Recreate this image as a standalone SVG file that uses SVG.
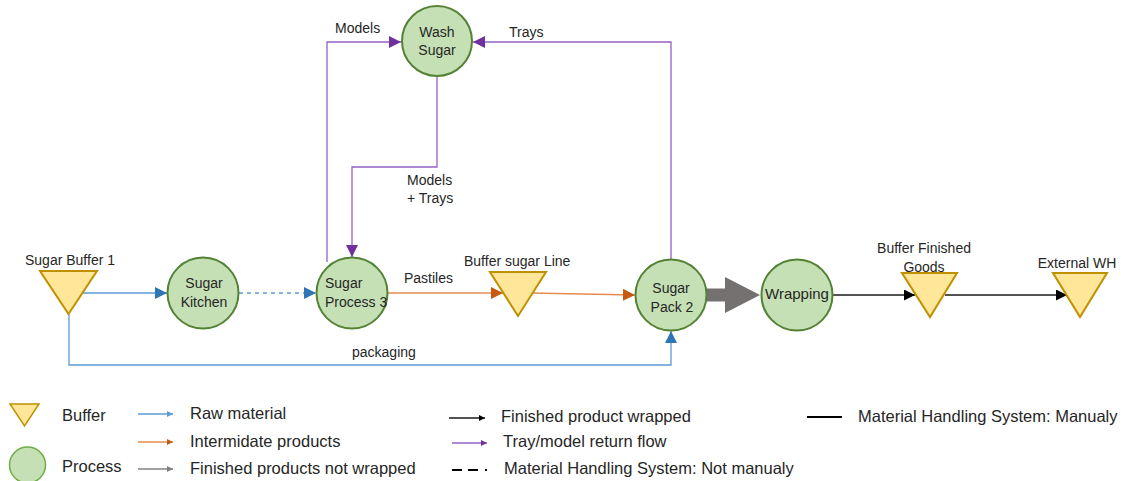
<svg xmlns="http://www.w3.org/2000/svg" width="1125" height="481" viewBox="0 0 1125 481">
<defs>
<style>
text{font-family:"Liberation Sans",Arial,sans-serif;fill:#262626}
.t{font-size:14px}
.lg{font-size:16.5px}
.proc{fill:#C5E0B4;stroke:#548235;stroke-width:2}
.buf{fill:#FFE699;stroke:#BF9000;stroke-width:2}
.blue{stroke:#5B9BD5;stroke-width:1.3;fill:none}
.orange{stroke:#E68A4F;stroke-width:1.3;fill:none}
.purple{stroke:#9461C4;stroke-width:1.3;fill:none}
.black{stroke:#1a1a1a;stroke-width:1.3;fill:none}
.gray{stroke:#808080;stroke-width:1.5;fill:none}
</style>
<marker id="ab" viewBox="0 0 10 10" refX="10" refY="5" markerWidth="12" markerHeight="12" markerUnits="userSpaceOnUse" orient="auto"><path d="M0,0L10,5L0,10z" fill="#2E75B6"/></marker>
<marker id="ao" viewBox="0 0 10 10" refX="10" refY="5" markerWidth="12" markerHeight="12" markerUnits="userSpaceOnUse" orient="auto"><path d="M0,0L10,5L0,10z" fill="#C55A11"/></marker>
<marker id="ap" viewBox="0 0 10 10" refX="10" refY="5" markerWidth="12" markerHeight="12" markerUnits="userSpaceOnUse" orient="auto"><path d="M0,0L10,5L0,10z" fill="#7030A0"/></marker>
<marker id="ak" viewBox="0 0 10 10" refX="10" refY="5" markerWidth="11" markerHeight="11" markerUnits="userSpaceOnUse" orient="auto"><path d="M0,0L10,5L0,10z" fill="#000"/></marker>
<marker id="sb" viewBox="0 0 10 10" refX="10" refY="5" markerWidth="6" markerHeight="6" markerUnits="userSpaceOnUse" orient="auto"><path d="M0,0L10,5L0,10z" fill="#5B9BD5"/></marker>
<marker id="so" viewBox="0 0 10 10" refX="10" refY="5" markerWidth="6" markerHeight="6" markerUnits="userSpaceOnUse" orient="auto"><path d="M0,0L10,5L0,10z" fill="#C55A11"/></marker>
<marker id="sg" viewBox="0 0 10 10" refX="10" refY="5" markerWidth="6" markerHeight="6" markerUnits="userSpaceOnUse" orient="auto"><path d="M0,0L10,5L0,10z" fill="#808080"/></marker>
<marker id="sk" viewBox="0 0 10 10" refX="10" refY="5" markerWidth="6" markerHeight="6" markerUnits="userSpaceOnUse" orient="auto"><path d="M0,0L10,5L0,10z" fill="#000"/></marker>
<marker id="sp" viewBox="0 0 10 10" refX="10" refY="5" markerWidth="6" markerHeight="6" markerUnits="userSpaceOnUse" orient="auto"><path d="M0,0L10,5L0,10z" fill="#7030A0"/></marker>
</defs>
<rect width="1125" height="481" fill="#fff"/>

<g id="connectors">
<line class="blue" x1="82" y1="293" x2="167" y2="293" marker-end="url(#ab)"/>
<line class="blue" x1="239" y1="293" x2="316" y2="293" stroke-dasharray="4 4" marker-end="url(#ab)"/>
<path class="blue" d="M69,314V365H671V331" marker-end="url(#ab)"/>
<line class="orange" x1="388" y1="293" x2="503" y2="293" marker-end="url(#ao)"/>
<line class="orange" x1="530" y1="293" x2="635" y2="295" marker-end="url(#ao)"/>
<polygon points="707,288.5 725,288.5 725,277 760,295 725,313 725,301.5 707,301.5" fill="#767171"/>
<line class="black" x1="833" y1="295" x2="915" y2="295" marker-end="url(#ak)"/>
<line class="black" x1="945" y1="295" x2="1067" y2="295" marker-end="url(#ak)"/>
<path class="purple" d="M327,262V42H401" marker-end="url(#ap)"/>
<path class="purple" d="M671,259V42H473" marker-end="url(#ap)"/>
<path class="purple" d="M437,77V167H352V257" marker-end="url(#ap)"/>
<text class="t" x="335" y="33">Models</text>
<text class="t" x="509" y="37">Trays</text>
<text class="t" x="407" y="185">Models</text>
<text class="t" x="407" y="203">+ Trays</text>
<text class="t" x="404" y="283">Pastiles</text>
<text class="t" x="352" y="357">packaging</text>
</g>

<g id="wash-sugar">
<circle class="proc" cx="437" cy="41" r="35"/>
<text class="t" x="437" y="37" text-anchor="middle">Wash</text>
<text class="t" x="437" y="55" text-anchor="middle">Sugar</text>
</g>
<g id="sugar-kitchen">
<circle class="proc" cx="203" cy="293" r="35.5"/>
<text class="t" x="204" y="288" text-anchor="middle">Sugar</text>
<text class="t" x="204" y="307" text-anchor="middle">Kitchen</text>
</g>
<g id="sugar-process-3">
<circle class="proc" cx="352" cy="293" r="35.5"/>
<text class="t" x="325" y="288">Sugar</text>
<text class="t" x="325" y="307">Process 3</text>
</g>
<g id="sugar-pack-2">
<circle class="proc" cx="671" cy="295" r="35.5"/>
<text class="t" x="671" y="293" text-anchor="middle">Sugar</text>
<text class="t" x="672" y="312" text-anchor="middle">Pack 2</text>
</g>
<g id="wrapping">
<circle class="proc" cx="797" cy="295" r="35.5"/>
<text class="t" x="797" y="299" text-anchor="middle" style="font-size:15px">Wrapping</text>
</g>
<g id="sugar-buffer-1">
<polygon class="buf" points="40,271 97,271 68.5,314"/>
<text class="t" x="70" y="265" text-anchor="middle">Sugar Buffer 1</text>
</g>
<g id="buffer-sugar-line">
<polygon class="buf" points="490,272 546,272 518,316"/>
<text class="t" x="464" y="266">Buffer sugar Line</text>
</g>
<g id="buffer-finished-goods">
<polygon class="buf" points="902,273 957,273 930,317"/>
<text class="t" x="924" y="253" text-anchor="middle">Buffer Finished</text>
<text class="t" x="924" y="272" text-anchor="middle">Goods</text>
</g>
<g id="external-wh">
<polygon class="buf" points="1053,273 1107,273 1080,317"/>
<text class="t" x="1077" y="268" text-anchor="middle">External WH</text>
</g>

<g id="legend">
<polygon points="10,404 39,404 24.5,426" fill="#FFE699" stroke="#BF9000" stroke-width="1.5"/>
<text class="lg" x="62" y="421">Buffer</text>
<circle cx="27.5" cy="465" r="18" fill="#C5E0B4" stroke="#70AD47" stroke-width="1.5"/>
<text class="lg" x="62" y="472">Process</text>
<line class="blue" x1="138" y1="414" x2="173" y2="414" marker-end="url(#sb)"/>
<text class="lg" x="190" y="419">Raw material</text>
<line class="orange" x1="138" y1="442" x2="173" y2="442" stroke="#C55A11" marker-end="url(#so)"/>
<text class="lg" x="190" y="447">Intermidate products</text>
<line class="gray" x1="138" y1="469" x2="173" y2="469" stroke-width="1.3" marker-end="url(#sg)"/>
<text class="lg" x="190" y="474">Finished products not wrapped</text>
<line class="black" x1="449" y1="418" x2="485" y2="418" marker-end="url(#sk)"/>
<text class="lg" x="501" y="422">Finished product wrapped</text>
<line class="purple" x1="452" y1="443" x2="487" y2="443" stroke="#7030A0" marker-end="url(#sp)"/>
<text class="lg" x="503" y="447">Tray/model return flow</text>
<line x1="452" y1="470" x2="488" y2="470" stroke="#000" stroke-width="2.2" stroke-dasharray="10 6 10 7 2 40"/>
<text class="lg" x="504" y="474">Material Handling System: Not manualy</text>
<line x1="807" y1="417" x2="842" y2="417" stroke="#000" stroke-width="2.2"/>
<text class="lg" x="858" y="422">Material Handling System: Manualy</text>
</g>
</svg>
